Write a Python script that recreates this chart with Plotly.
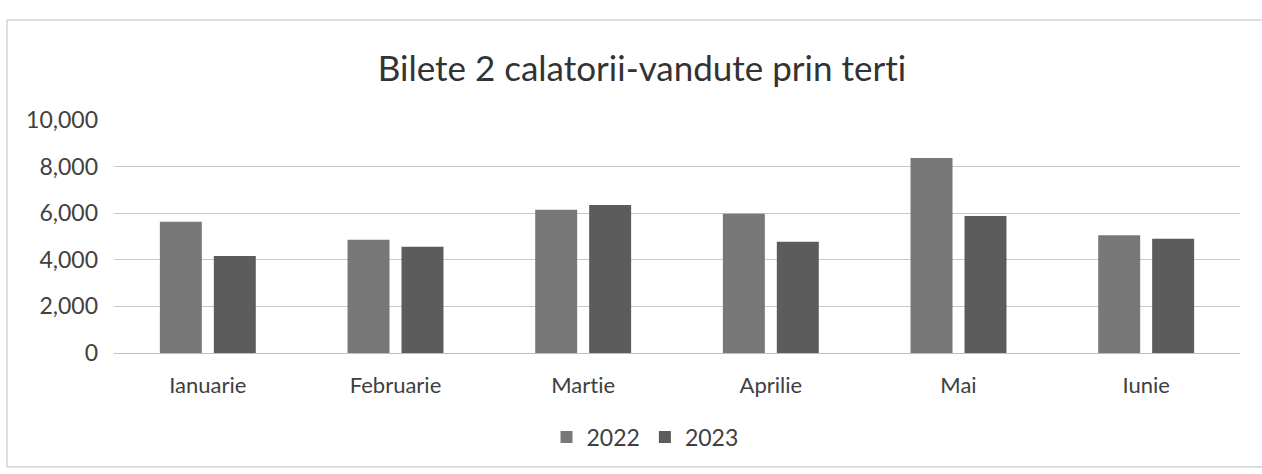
import plotly.graph_objects as go

months = ["Ianuarie", "Februarie", "Martie", "Aprilie", "Mai", "Iunie"]
values_2022 = [5630, 4860, 6150, 5980, 8370, 5050]
values_2023 = [4160, 4560, 6350, 4780, 5880, 4900]
series_names = ["2022", "2023"]

FONT = "Lato, 'Open Sans', sans-serif"
TXT = "#404040"

fig = go.Figure()
fig.add_trace(go.Bar(name=series_names[0], x=months, y=values_2022,
                     marker=dict(color="#787878", line=dict(width=0))))
fig.add_trace(go.Bar(name=series_names[1], x=months, y=values_2023,
                     marker=dict(color="#5c5c5c", line=dict(width=0))))

fig.update_layout(
    width=1262, height=474,
    paper_bgcolor="white", plot_bgcolor="white",
    margin=dict(l=114, r=22, t=120, b=121, autoexpand=False),
    barmode="group", bargap=0.425, bargroupgap=0.222,
    font=dict(family=FONT, color=TXT, size=20),
    title=dict(text="Bilete 2 calatorii-vandute prin terti",
               x=0.5087, xanchor="center", y=0.855, yanchor="middle",
               font=dict(family=FONT, size=35, color="#333333")),
    legend=dict(orientation="h", x=0.4716, xanchor="center", y=-0.3605, yanchor="middle",
                font=dict(size=23, color=TXT), itemwidth=30, traceorder="normal"),
    xaxis=dict(showgrid=False, showline=True, linecolor="#bfbfbf", linewidth=1,
               ticks="", automargin=False, ticklabelstandoff=13,
               tickfont=dict(size=22, color=TXT)),
    yaxis=dict(range=[0, 10000], dtick=2000, tickformat=",",
               showgrid=True, gridcolor="#c8c8c8", gridwidth=1,
               zeroline=False, showline=False, ticks="", automargin=False,
               ticklabelstandoff=15,
               tickfont=dict(size=23, color=TXT)),
    shapes=[dict(type="rect", xref="paper", yref="paper",
                 x0=-0.095, x1=1.05, y0=-0.489, y1=1.429,
                 line=dict(color="#bdbdbd", width=1), fillcolor="rgba(0,0,0,0)",
                 layer="below")],
)

post = (
    "document.body.style.margin='0';document.body.style.overflow='hidden';"
    "var s=document.createElement('style');"
    "s.textContent='svg text{font-variant-ligatures:none !important;font-feature-settings:\"liga\" 0 !important;}';"
    "document.head.appendChild(s);"
)
fig.write_html("out.html", post_script=post, config={"displayModeBar": False})
